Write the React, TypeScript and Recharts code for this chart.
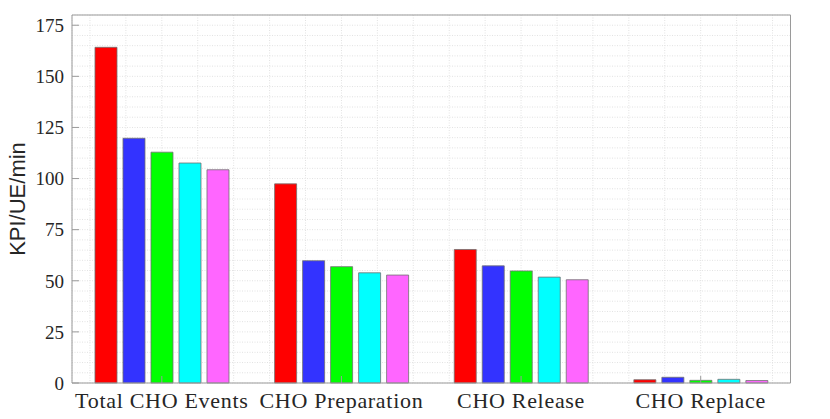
import React from 'react';
import { BarChart, Bar, XAxis, YAxis, CartesianGrid, Label } from 'recharts';

// categories and values
const categories = ['Total CHO Events', 'CHO Preparation', 'CHO Release', 'CHO Replace'];
const positions = [1, 2, 3, 4];
const redValues = [164.2, 97.4, 65.3, 1.6];
const blueValues = [119.7, 59.8, 57.3, 2.8];
const greenValues = [112.9, 56.9, 54.8, 1.3];
const cyanValues = [107.6, 53.9, 51.8, 1.8];
const magentaValues = [104.3, 52.8, 50.5, 1.2];

const yTicks = [0, 25, 50, 75, 100, 125, 150, 175];

// minor grid spacing (5 units on y, 0.2 on x)
const gridYTicks = Array.from({ length: 37 }, (_, i) => i * 5);
const gridXTicks = Array.from({ length: 20 }, (_, i) => Math.round((0.6 + i * 0.2) * 10) / 10);

const series = [
  { key: 'red', values: redValues, color: '#ff0000' },
  { key: 'blue', values: blueValues, color: '#3333ff' },
  { key: 'green', values: greenValues, color: '#00ff00' },
  { key: 'cyan', values: cyanValues, color: '#00ffff' },
  { key: 'magenta', values: magentaValues, color: '#ff66ff' },
];

const data = categories.map((name, i) => {
  const row: Record<string, string | number> = { name, pos: positions[i] };
  series.forEach(s => { row[s.key] = s.values[i]; });
  return row;
});

const axisColor = '#9a9a9a';
const textColor = '#262626';
const serif = '"Liberation Serif", "Times New Roman", serif';

const YTitle = (props: any) => {
  const vb = props.viewBox;
  const cx = vb.x + 17;
  const cy = vb.y + vb.height / 2;
  return (
    <text
      x={cx}
      y={cy}
      transform={`rotate(-90 ${cx} ${cy})`}
      textAnchor="middle"
      dominantBaseline="central"
      fontFamily='"Liberation Sans", Arial, sans-serif'
      fontSize={22}
      fill={textColor}
    >
      KPI/UE/min
    </text>
  );
};

const App: React.FC = () => {
  return (
    <div style={{ position: 'absolute', left: 0, top: 0, background: '#fff' }}>
      <BarChart
        width={830}
        height={419}
        data={data}
        margin={{ top: 14, right: 38.5, bottom: 0, left: 0 }}
        barCategoryGap="12.8%"
        barGap={6}
      >
        <XAxis xAxisId="grid" type="number" dataKey="pos" domain={[0.5, 4.5]} allowDataOverflow ticks={gridXTicks} interval={0} hide />
        <YAxis yAxisId="grid" type="number" domain={[0, 180]} allowDataOverflow ticks={gridYTicks} interval={0} hide />
        <CartesianGrid xAxisId="grid" yAxisId="grid" stroke="#e2e2e2" strokeDasharray="1 1.5" />

        <XAxis
          dataKey="name"
          height={36}
          interval={0}
          tickSize={-7}
          tickMargin={16}
          axisLine={{ stroke: axisColor }}
          tickLine={{ stroke: axisColor }}
          tick={{ fontFamily: serif, fontSize: 22, fill: textColor, letterSpacing: 0.7 }}
        />
        <XAxis
          xAxisId="top"
          orientation="top"
          dataKey="name"
          height={1}
          interval={0}
          tickSize={-7}
          tick={false}
          axisLine={{ stroke: axisColor }}
          tickLine={{ stroke: axisColor }}
        />
        <YAxis
          width={72}
          domain={[0, 180]}
          ticks={yTicks}
          interval={0}
          tickSize={-7}
          tickMargin={15}
          axisLine={{ stroke: axisColor }}
          tickLine={{ stroke: axisColor }}
          tick={{ fontFamily: serif, fontSize: 19, fill: textColor }}
        >
          <Label content={<YTitle />} />
        </YAxis>
        <YAxis
          yAxisId="right"
          orientation="right"
          width={1}
          domain={[0, 180]}
          ticks={yTicks}
          interval={0}
          tickSize={-7}
          tick={false}
          axisLine={{ stroke: axisColor }}
          tickLine={{ stroke: axisColor }}
        />

        {series.map(s => (
          <Bar
            key={s.key}
            dataKey={s.key}
            fill={s.color}
            stroke="#707070"
            strokeWidth={0.8}
            isAnimationActive={false}
          />
        ))}
      </BarChart>
    </div>
  );
};

export default App;
